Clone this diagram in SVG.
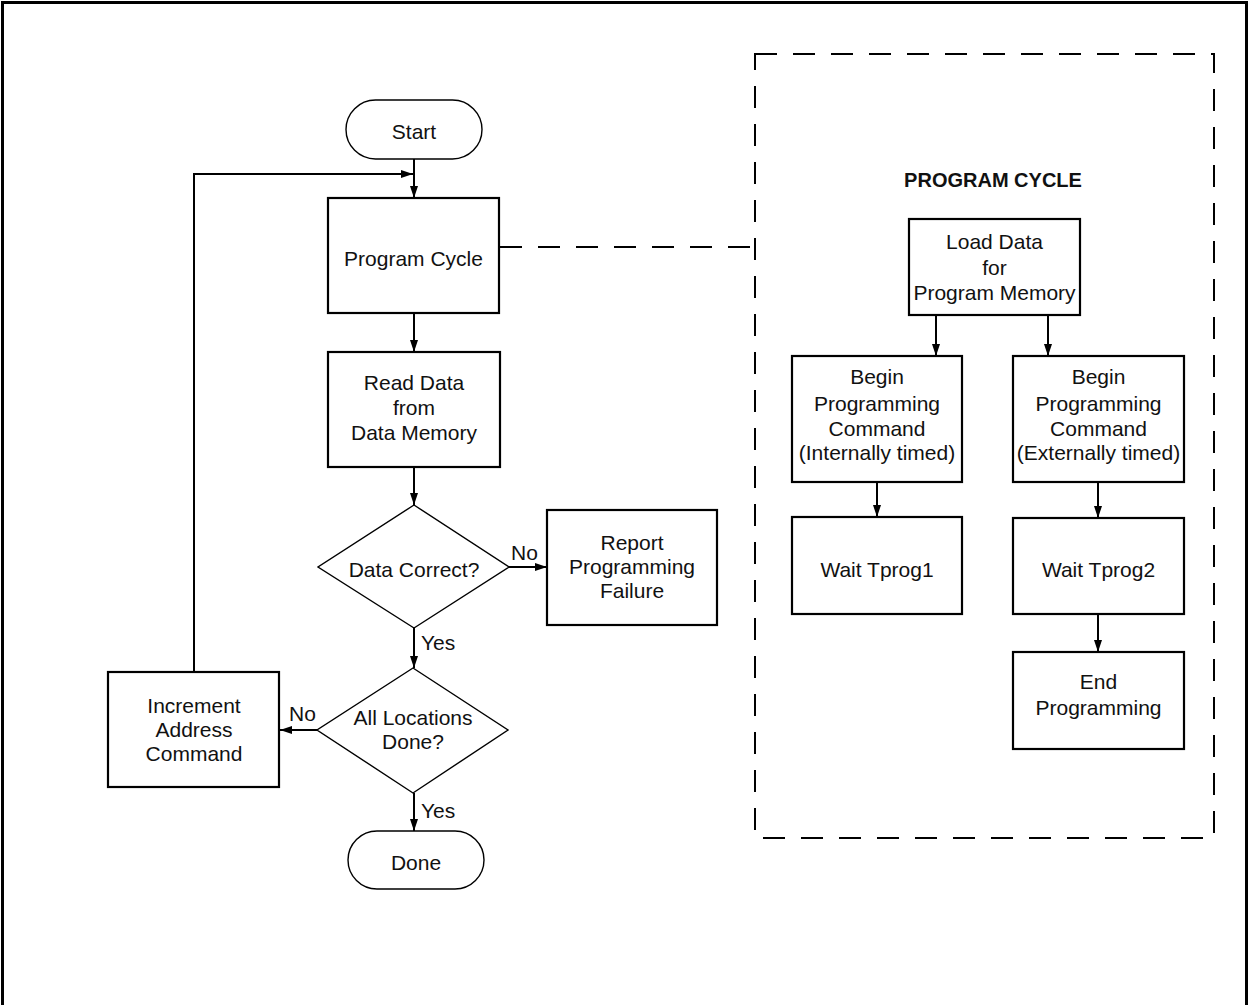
<svg xmlns="http://www.w3.org/2000/svg" width="1248" height="1005" viewBox="0 0 1248 1005">
<defs>
<marker id="arr" markerWidth="12" markerHeight="8" refX="12" refY="4" orient="auto" markerUnits="userSpaceOnUse">
<path d="M0,0 L12,4 L0,8 Z" fill="#000"/>
</marker>
<style>
.box{fill:#fff;stroke:#000;stroke-width:2.2}
.thin{fill:#fff;stroke:#000;stroke-width:1.4}
.ln{fill:none;stroke:#000;stroke-width:2}
.dash{fill:none;stroke:#000;stroke-width:2;stroke-dasharray:22 16}
text{font-family:"Liberation Sans",Arial,sans-serif;font-size:21px;fill:#111;text-anchor:middle}
.lbl{text-anchor:start}
.title{font-weight:bold;font-size:20px}
</style>
</defs>
<rect x="0" y="0" width="1248" height="1005" fill="#fff"/>
<rect x="2.5" y="2.5" width="1244" height="1010" fill="none" stroke="#000" stroke-width="3"/>

<g id="connectors">
<line class="ln" x1="414" y1="159" x2="414" y2="198" marker-end="url(#arr)"/>
<polyline class="ln" points="194,672 194,174 413,174" marker-end="url(#arr)"/>
<line class="ln" x1="414" y1="313" x2="414" y2="352" marker-end="url(#arr)"/>
<line class="ln" x1="414" y1="467" x2="414" y2="505" marker-end="url(#arr)"/>
<line class="ln" x1="509" y1="567" x2="547" y2="567" marker-end="url(#arr)"/>
<line class="ln" x1="414" y1="628" x2="414" y2="668" marker-end="url(#arr)"/>
<line class="ln" x1="317" y1="730" x2="280" y2="730" marker-end="url(#arr)"/>
<line class="ln" x1="414" y1="793" x2="414" y2="831" marker-end="url(#arr)"/>
<line class="dash" x1="500" y1="247" x2="755" y2="247"/>
<line class="ln" x1="936" y1="315" x2="936" y2="356" marker-end="url(#arr)"/>
<line class="ln" x1="1048" y1="315" x2="1048" y2="356" marker-end="url(#arr)"/>
<line class="ln" x1="877" y1="482" x2="877" y2="517" marker-end="url(#arr)"/>
<line class="ln" x1="1098" y1="482" x2="1098" y2="518" marker-end="url(#arr)"/>
<line class="ln" x1="1098" y1="614" x2="1098" y2="652" marker-end="url(#arr)"/>
<text class="lbl" x="511" y="560">No</text>
<text class="lbl" x="421" y="650">Yes</text>
<text class="lbl" x="289" y="721">No</text>
<text class="lbl" x="421" y="818">Yes</text>
</g>

<g id="program-cycle-frame">
<rect class="dash" x="755" y="54" width="459" height="784"/>
<text class="title" x="993" y="187">PROGRAM CYCLE</text>
</g>

<g id="start">
<rect class="thin" x="346" y="100" width="136" height="59" rx="29.5" ry="29.5"/>
<text x="414" y="139">Start</text>
</g>
<g id="program-cycle">
<rect class="box" x="328" y="198" width="171" height="115"/>
<text x="413.5" y="266">Program Cycle</text>
</g>
<g id="read-data">
<rect class="box" x="328" y="352" width="172" height="115"/>
<text x="414" y="390">Read Data</text>
<text x="414" y="415">from</text>
<text x="414" y="440">Data Memory</text>
</g>
<g id="data-correct">
<polygon class="thin" points="414,505 509,567 414,628 318,567"/>
<text x="414" y="577">Data Correct?</text>
</g>
<g id="report-failure">
<rect class="box" x="547" y="510" width="170" height="115"/>
<text x="632" y="550">Report</text>
<text x="632" y="574">Programming</text>
<text x="632" y="598">Failure</text>
</g>
<g id="all-done">
<polygon class="thin" points="413,668 508,730 413,793 317,730"/>
<text x="413" y="725">All Locations</text>
<text x="413" y="749">Done?</text>
</g>
<g id="increment">
<rect class="box" x="108" y="672" width="171" height="115"/>
<text x="194" y="713">Increment</text>
<text x="194" y="737">Address</text>
<text x="194" y="761">Command</text>
</g>
<g id="done">
<rect class="thin" x="348" y="831" width="136" height="58" rx="29" ry="29"/>
<text x="416" y="870">Done</text>
</g>

<g id="load-data">
<rect class="box" x="909" y="219" width="171" height="96"/>
<text x="994.5" y="249">Load Data</text>
<text x="994.5" y="275">for</text>
<text x="994.5" y="300">Program Memory</text>
</g>
<g id="begin-internal">
<rect class="box" x="792" y="356" width="170" height="126"/>
<text x="877" y="384">Begin</text>
<text x="877" y="411">Programming</text>
<text x="877" y="436">Command</text>
<text x="877" y="460">(Internally timed)</text>
</g>
<g id="begin-external">
<rect class="box" x="1013" y="356" width="171" height="126"/>
<text x="1098.5" y="384">Begin</text>
<text x="1098.5" y="411">Programming</text>
<text x="1098.5" y="436">Command</text>
<text x="1098.5" y="460">(Externally timed)</text>
</g>
<g id="wait1">
<rect class="box" x="792" y="517" width="170" height="97"/>
<text x="877" y="577">Wait Tprog1</text>
</g>
<g id="wait2">
<rect class="box" x="1013" y="518" width="171" height="96"/>
<text x="1098.5" y="577">Wait Tprog2</text>
</g>
<g id="end-programming">
<rect class="box" x="1013" y="652" width="171" height="97"/>
<text x="1098.5" y="689">End</text>
<text x="1098.5" y="715">Programming</text>
</g>
</svg>
